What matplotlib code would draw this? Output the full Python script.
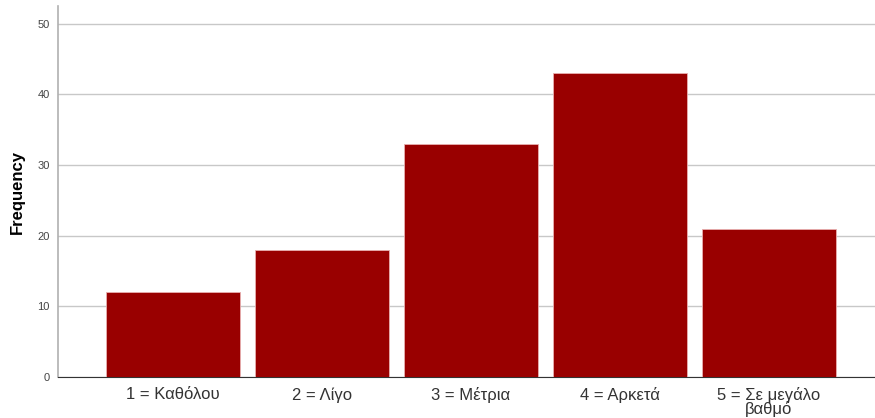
import matplotlib.pyplot as plt
import numpy as np

categories = ["1 = Καθόλου", "2 = Λίγο", "3 = Μέτρια", "4 = Αρκετά", "5 = Σε μεγάλο\nβαθμό"]
frequency = [12, 18, 33, 43, 21]
yticks = [0, 10, 20, 30, 40, 50]

plt.rcParams['font.family'] = ['Liberation Sans', 'DejaVu Sans']

fig = plt.figure(figsize=(8.75, 4.18), dpi=100)
ax = fig.add_axes([58/875, 41/418, 1 - 58/875, 371/418])

x = np.arange(len(categories))
ax.bar(x, frequency, width=0.9, color="#990000", edgecolor="#e8b0b0", linewidth=0.6, zorder=3)

ax.set_xlim(-0.772, 4.711)
ax.set_ylim(0, 52.5)
ax.set_yticks(yticks)
ax.yaxis.grid(True, color="#c8c8c8", linewidth=1, zorder=0)
ax.set_xticks(x)
ax.set_xticklabels(categories, fontsize=12, color="#333333", linespacing=0.8)
ax.tick_params(axis='y', length=0, labelsize=8, labelcolor="#444444", pad=6)
ax.tick_params(axis='x', length=0, pad=7.5)

for s in ["top", "right"]:
    ax.spines[s].set_visible(False)
ax.spines["left"].set_color("#b0b0b0")
ax.spines["left"].set_linewidth(1.2)
ax.spines["bottom"].set_color("#333333")

ax.set_ylabel("Frequency", fontsize=12, fontweight="bold", labelpad=9)

fig.savefig("out.png", dpi=100)
